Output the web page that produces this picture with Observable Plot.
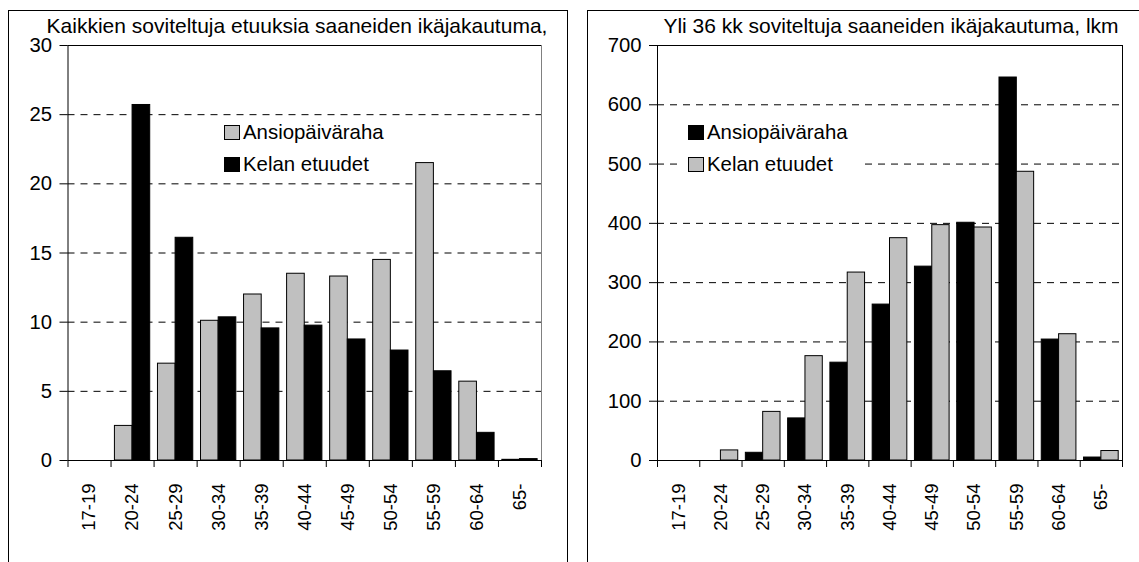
<!DOCTYPE html>
<html>
<head>
<meta charset="utf-8">
<script src="https://cdn.jsdelivr.net/npm/d3@7"></script>
<script src="https://cdn.jsdelivr.net/npm/@observablehq/plot@0.6"></script>
<style>
  html, body { margin: 0; padding: 0; background: #fff; }
  body { font-family: "Liberation Sans", Arial, sans-serif; color: #000; }
  #page { position: relative; width: 1139px; height: 562px; overflow: hidden; background: #fff; }
  .frame { position: absolute; box-sizing: border-box; border: 1px solid #000; pointer-events: none; z-index: 5; }
  .chart { position: absolute; top: 0; }
  .title { position: absolute; font-size: 21px; line-height: 20px; height: 20px; white-space: nowrap; transform: translateX(-50%); z-index: 4; }
  .legend { position: absolute; background: #fff; z-index: 3; font-size: 20.4px; }
  .item { display: flex; align-items: center; height: 31.5px; }
  .sw { box-sizing: border-box; width: 16px; height: 15px; border: 1px solid #000; margin-right: 3px; flex: none; }
</style>
</head>
<body>
<div id="page">
  <div class="frame" style="left:8px; top:10px; width:560px; height:600px;"></div>
  <div class="frame" style="left:587px; top:10px; width:600px; height:600px;"></div>
  <div id="leftTitle" class="title"></div>
  <div id="rightTitle" class="title"></div>
  <div id="leftChart" class="chart" style="left:0px;"></div>
  <div id="rightChart" class="chart" style="left:580px;"></div>
  <div id="leftLegend" class="legend"></div>
  <div id="rightLegend" class="legend"></div>
</div>
<script>
// ---- data ----
const ageGroups = ["17-19", "20-24", "25-29", "30-34", "35-39", "40-44", "45-49", "50-54", "55-59", "60-64", "65-"];

// Left chart: Kaikkien soviteltuja etuuksia saaneiden ikäjakautuma, %
const leftTitle = "Kaikkien soviteltuja etuuksia saaneiden ikäjakautuma,";
const leftSeriesNames = ["Ansiopäiväraha", "Kelan etuudet"];
const leftAnsio = [0, 2.5, 7.0, 10.1, 12.0, 13.5, 13.3, 14.5, 21.5, 5.7, 0.05];
const leftKela  = [0, 25.7, 16.1, 10.35, 9.55, 9.75, 8.75, 7.95, 6.45, 2.0, 0.1];
const leftTicks = [0, 5, 10, 15, 20, 25, 30];

// Right chart: Yli 36 kk soviteltuja saaneiden ikäjakautuma, lkm
const rightTitle = "Yli 36 kk soviteltuja saaneiden ikäjakautuma, lkm";
const rightSeriesNames = ["Ansiopäiväraha", "Kelan etuudet"];
const rightAnsio = [0, 0, 13, 71, 165, 263, 327, 401, 646, 204, 5];
const rightKela  = [0, 17, 82, 176, 317, 375, 397, 393, 487, 213, 16];
const rightTicks = [0, 100, 200, 300, 400, 500, 600, 700];

// ---- styles ----
const GRAY = "#c0c0c0";
const BLACK = "#000000";
const FONT = "'Liberation Sans', Arial, sans-serif";

function makeChart({series, fills, ticks, width, marginLeft, marginRight, rightBorder}) {
  const n = ageGroups.length;
  const rows = [];
  ageGroups.forEach((g, i) => {
    series.forEach((vals, k) => rows.push({group: g, i, k, value: vals[i]}));
  });
  const yMax = ticks[ticks.length - 1];
  const bar = [[0.09, 0.5], [0.5, 0.91]];
  return Plot.plot({
    width,
    height: 562,
    marginLeft,
    marginRight,
    marginTop: 45,
    marginBottom: 102,
    style: {background: "transparent", fontFamily: FONT, fontSize: "20px", overflow: "visible", color: "#000"},
    x: {type: "linear", domain: [0, n]},
    y: {domain: [0, yMax]},
    marks: [
      Plot.ruleY(ticks.filter(t => t > 0 && t < yMax), {stroke: "#000", strokeWidth: 1, strokeDasharray: "7,6"}),
      Plot.rect(rows.filter(d => d.value > 0), {
        x1: d => d.i + bar[d.k][0],
        x2: d => d.i + bar[d.k][1],
        y1: () => 0,
        y2: "value",
        fill: d => fills[d.k],
        stroke: "#000",
        strokeWidth: 1
      }),
      Plot.ruleY([yMax], {stroke: "#000", strokeWidth: 1}),
      Plot.ruleX([n], {stroke: rightBorder, strokeWidth: 1}),
      Plot.ruleX([0], {stroke: "#000", strokeWidth: 1}),
      Plot.ruleY([0], {stroke: "#000", strokeWidth: 1}),
      Plot.axisY({ticks, tickSize: 8, tickPadding: 8, label: null, fontSize: 20.3}),
      Plot.axisX({ticks: d3.range(0, n + 1), tickSize: 7, tickFormat: () => "", label: null}),
      Plot.axisX({
        ticks: d3.range(0, n).map(i => i + 0.5),
        tickSize: 0,
        tickPadding: 23,
        tickRotate: -90,
        tickFormat: t => ageGroups[Math.floor(t)],
        label: null,
        fontSize: 18.5
      })
    ]
  });
}

document.getElementById("leftChart").append(makeChart({
  series: [leftAnsio, leftKela],
  fills: [GRAY, BLACK],
  ticks: leftTicks,
  width: 570,
  marginLeft: 67.5,
  marginRight: 29,
  rightBorder: "#808080"
}));

document.getElementById("rightChart").append(makeChart({
  series: [rightAnsio, rightKela],
  fills: [BLACK, GRAY],
  ticks: rightTicks,
  width: 559,
  marginLeft: 77,
  marginRight: 17,
  rightBorder: "#000"
}));

// titles
const lt = document.getElementById("leftTitle");
lt.textContent = leftTitle;
lt.style.left = "297px"; lt.style.top = "16px";
const rt = document.getElementById("rightTitle");
rt.textContent = rightTitle;
rt.style.left = "891px"; rt.style.top = "16px";

// legends
function legend(el, names, fills, left, top, padL, width) {
  el.style.left = left + "px";
  el.style.top = top + "px";
  el.style.paddingLeft = padL + "px";
  el.style.width = width + "px";
  names.forEach((name, k) => {
    const item = document.createElement("div");
    item.className = "item";
    const sw = document.createElement("div");
    sw.className = "sw";
    sw.style.background = fills[k];
    const tx = document.createElement("span");
    tx.textContent = name;
    item.append(sw, tx);
    el.append(item);
  });
}
legend(document.getElementById("leftLegend"), leftSeriesNames, [GRAY, BLACK], 216, 117, 8, 170);
legend(document.getElementById("rightLegend"), rightSeriesNames, [BLACK, GRAY], 679, 117, 9, 172);
</script>
</body>
</html>
